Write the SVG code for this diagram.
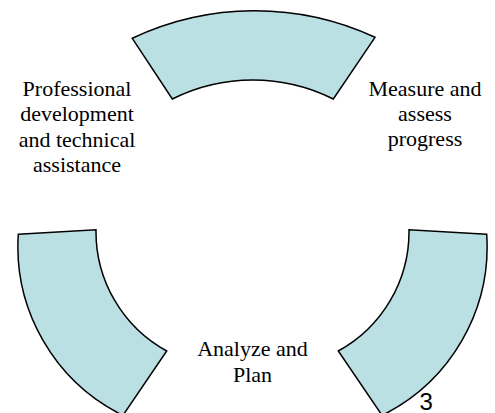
<svg xmlns="http://www.w3.org/2000/svg" width="495" height="413" viewBox="0 0 495 413">
  <style>
    .arc { fill: #BBE0E3; stroke: #000000; stroke-width: 1.5; stroke-linejoin: miter; }
    .lbl { font-family: "Liberation Serif", "Times New Roman", serif; font-size: 22px; fill: #000000; text-anchor: middle; }
    .num { font-family: "Liberation Sans", Arial, sans-serif; font-size: 24px; fill: #000000; }
  </style>
  <rect x="0" y="0" width="495" height="413" fill="#FFFFFF"/>
  <g id="connectors">
    <path id="arc-top" class="arc" d="M132.3,38.3 A286,286 0 0 1 375,37.3 L333.3,99 A180,180 0 0 0 172.3,99 Z"/>
    <path id="arc-left" class="arc" d="M18.3,234.3 L96,229.7 A136.3,136.3 0 0 0 166.7,351 L122.9,415.4 A188.3,188.3 0 0 1 18.3,234.3 Z"/>
    <path id="arc-right" class="arc" d="M486.7,234.3 L409,229.7 A136.3,136.3 0 0 1 338.3,351 L382.1,415.4 A188.3,188.3 0 0 0 486.7,234.3 Z"/>
  </g>
  <g id="node-professional">
    <text class="lbl" x="77" y="95.7">Professional</text>
    <text class="lbl" x="77" y="121.3">development</text>
    <text class="lbl" x="77" y="146.7">and technical</text>
    <text class="lbl" x="77" y="171.7">assistance</text>
  </g>
  <g id="node-measure">
    <text class="lbl" x="425" y="95.7">Measure and</text>
    <text class="lbl" x="425" y="121">assess</text>
    <text class="lbl" x="425" y="146">progress</text>
  </g>
  <g id="node-analyze">
    <text class="lbl" x="252.5" y="356">Analyze and</text>
    <text class="lbl" x="252.5" y="381.5">Plan</text>
  </g>
  <g id="page-number">
    <text class="num" x="419.5" y="409.5">3</text>
  </g>
</svg>
